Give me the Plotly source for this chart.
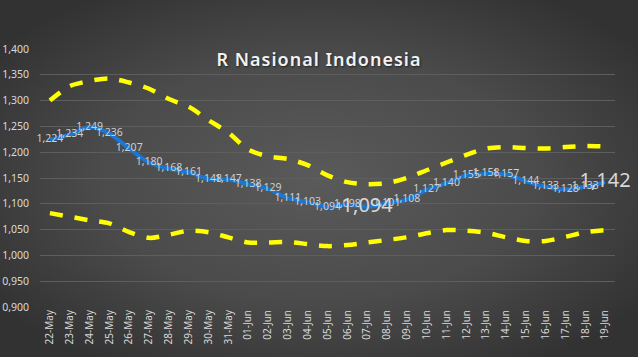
import base64
import plotly.graph_objects as go

dates = ["22-May", "23-May", "24-May", "25-May", "26-May", "27-May", "28-May", "29-May",
         "30-May", "31-May", "01-Jun", "02-Jun", "03-Jun", "04-Jun", "05-Jun", "06-Jun",
         "07-Jun", "08-Jun", "09-Jun", "10-Jun", "11-Jun", "12-Jun", "13-Jun", "14-Jun",
         "15-Jun", "16-Jun", "17-Jun", "18-Jun", "19-Jun"]

r_value = [1.224, 1.234, 1.249, 1.236, 1.207, 1.180, 1.168, 1.161, 1.148, 1.147,
           1.138, 1.129, 1.111, 1.103, 1.094, 1.098, 1.094, 1.101, 1.108, 1.127,
           1.140, 1.155, 1.158, 1.157, 1.144, 1.133, 1.128, 1.133, 1.142]

upper = [1.300, 1.328, 1.338, 1.343, 1.335, 1.323, 1.303, 1.288, 1.262, 1.238,
         1.205, 1.192, 1.187, 1.175, 1.155, 1.142, 1.138, 1.140, 1.150, 1.165,
         1.180, 1.195, 1.207, 1.210, 1.208, 1.207, 1.210, 1.212, 1.211]

lower = [1.082, 1.075, 1.068, 1.062, 1.045, 1.034, 1.040, 1.048, 1.045, 1.035,
         1.025, 1.025, 1.026, 1.022, 1.018, 1.020, 1.025, 1.030, 1.035, 1.043,
         1.049, 1.048, 1.044, 1.035, 1.028, 1.028, 1.036, 1.045, 1.049]

y_ticks = [0.90, 0.95, 1.00, 1.05, 1.10, 1.15, 1.20, 1.25, 1.30, 1.35, 1.40]

big_label_dates = ["07-Jun", "19-Jun"]

W, H = 638, 357
L, R, T, B = 40, 23, 49, 50
pw, ph = W - L - R, H - T - B

svg = f'''<svg xmlns="http://www.w3.org/2000/svg" width="{W}" height="{H}">
<defs><radialGradient id="g" cx="50%" cy="50%" r="62%">
<stop offset="0%" stop-color="#5a5a5a"/><stop offset="55%" stop-color="#4b4b4b"/>
<stop offset="100%" stop-color="#323232"/></radialGradient></defs>
<rect width="{W}" height="{H}" fill="url(#g)"/></svg>'''
bg_uri = "data:image/svg+xml;base64," + base64.b64encode(svg.encode()).decode()

fig = go.Figure()

for band in (upper, lower):
    fig.add_trace(go.Scatter(
        x=dates, y=band, mode="lines",
        line=dict(color="#ffff00", width=4.5, dash="13px,12px", shape="spline", smoothing=0.8),
        hoverinfo="skip", showlegend=False))

fig.add_trace(go.Scatter(
    x=dates, y=r_value, mode="lines+text", cliponaxis=False,
    line=dict(color="#1878d4", width=4, shape="spline", smoothing=0.8),
    text=[f"{v:.3f}".replace(".", ",") if d not in big_label_dates else "" for d, v in zip(dates, r_value)],
    textposition="middle center",
    textfont=dict(family="Noto Sans", size=10.5, color="#cfcfcf"),
    showlegend=False))

big_x = [d for d in dates if d in big_label_dates]
big_y = [v for d, v in zip(dates, r_value) if d in big_label_dates]
fig.add_trace(go.Scatter(
    x=big_x, y=big_y, mode="text", cliponaxis=False,
    text=[f"{v:.3f}".replace(".", ",") for v in big_y],
    textposition="middle center",
    textfont=dict(family="Noto Sans", size=20, color="#d8d8d8"),
    showlegend=False, hoverinfo="skip"))

fig.update_layout(
    width=W, height=H,
    margin=dict(l=L, r=R, t=T, b=B, autoexpand=False),
    paper_bgcolor="#444444",
    plot_bgcolor="rgba(0,0,0,0)",
    separators=",.",
    images=[dict(source=bg_uri, xref="paper", yref="paper",
                 x=-L / pw, y=1 + T / ph, sizex=W / pw, sizey=H / ph,
                 xanchor="left", yanchor="top", sizing="stretch", layer="below")],
    title=dict(text="R Nasional Indonesia", x=0.5, xanchor="center", y=1 - 60 / H, yanchor="middle",
               font=dict(family="Noto Sans", size=18, color="#f2f2f2", weight=600,
                         shadow="1px 1px 2px #222")),
    xaxis=dict(type="category", range=[-0.5, len(dates) - 0.5], autorange=False,
               showgrid=False, showline=False, zeroline=False,
               tickangle=-90, ticks="", tickfont=dict(family="Noto Sans", size=10, color="#d9d9d9")),
    yaxis=dict(range=[0.9, 1.4], autorange=False, tickvals=y_ticks, tickformat=".3f",
               showgrid=True, gridcolor="#5e5e5e", gridwidth=1, zeroline=False, showline=False,
               ticks="", ticklabelstandoff=10,
               tickfont=dict(family="Noto Sans", size=10.5, color="#d9d9d9")),
)

fig.write_html("out.html", config={"displayModeBar": False},
               post_script="document.body.style.margin='0';"
                           "var t=document.querySelector('.gtitle'); if(t){t.style.letterSpacing='1px';}")
